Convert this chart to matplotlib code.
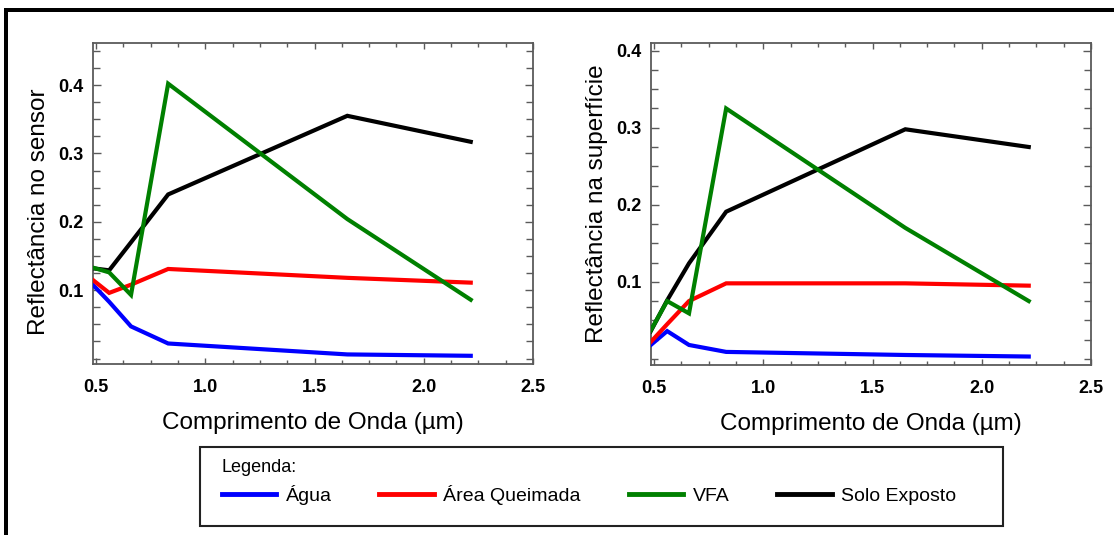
import matplotlib
matplotlib.use("Agg")
import matplotlib.pyplot as plt
from matplotlib.patches import Rectangle
from matplotlib.lines import Line2D
from matplotlib.ticker import MultipleLocator, FormatStrFormatter

plt.rcParams['font.family'] = ['Liberation Sans', 'DejaVu Sans']

# comprimentos de onda (bandas TM), em micrometros
wl = [0.485, 0.56, 0.66, 0.83, 1.65, 2.215]

# reflectancia no sensor
agua_sensor = [0.108, 0.083, 0.047, 0.022, 0.006, 0.004]
queimada_sensor = [0.115, 0.096, 0.108, 0.131, 0.118, 0.111]
vfa_sensor = [0.133, 0.126, 0.093, 0.402, 0.204, 0.086]
solo_sensor = [0.132, 0.129, 0.170, 0.240, 0.355, 0.317]

# reflectancia na superficie
agua_sup = [0.018, 0.036, 0.018, 0.009, 0.005, 0.003]
queimada_sup = [0.022, 0.045, 0.075, 0.098, 0.098, 0.095]
vfa_sup = [0.037, 0.075, 0.059, 0.325, 0.170, 0.075]
solo_sup = [0.036, 0.076, 0.124, 0.191, 0.298, 0.275]

nomes = ['Água', 'Área Queimada', 'VFA', 'Solo Exposto']
cores = ['#0000ff', '#ff0000', '#008000', '#000000']

W, H = 1114, 535


def caixa(x0, y0, x1, y1):
    return [x0 / W, 1 - y1 / H, (x1 - x0) / W, (y1 - y0) / H]


fig = plt.figure(figsize=(W / 100, H / 100), dpi=100)

# moldura preta (esquerda e topo)
fig.add_artist(Rectangle((4 / W, 0), 4 / W, 1 - 8 / H, transform=fig.transFigure,
                         facecolor='black', edgecolor='none'))
fig.add_artist(Rectangle((4 / W, 1 - 12 / H), 1 - 4 / W, 4 / H, transform=fig.transFigure,
                         facecolor='black', edgecolor='none'))


def desenha(ax, series, ylim, ylabel):
    # verde por cima do preto
    zs = [3, 4, 6, 5]
    for i in range(4):
        ax.plot(wl, series[i], color=cores[i], lw=3, solid_joinstyle='miter', zorder=zs[i])
    ax.set_xlim(0.486, 2.5)
    ax.set_ylim(*ylim)
    ax.set_xticks([0.5, 1.0, 1.5, 2.0, 2.5])
    ax.set_yticks([0.1, 0.2, 0.3, 0.4])
    ax.xaxis.set_minor_locator(MultipleLocator(0.125))
    ax.yaxis.set_minor_locator(MultipleLocator(0.025))
    ax.xaxis.set_major_formatter(FormatStrFormatter('%.1f'))
    ax.yaxis.set_major_formatter(FormatStrFormatter('%.1f'))
    for s in ax.spines.values():
        s.set_color('#5a5a5a')
        s.set_linewidth(1.3)
    ax.tick_params(axis='both', which='both', direction='in', top=True, right=True,
                   color='#5a5a5a', width=1.0)
    ax.tick_params(axis='x', which='major', length=4, pad=11)
    ax.tick_params(axis='x', which='minor', length=3)
    ax.tick_params(axis='y', which='major', length=6, pad=7)
    ax.tick_params(axis='y', which='minor', length=5)
    for lab in ax.get_xticklabels() + ax.get_yticklabels():
        lab.set_fontweight('bold')
        lab.set_fontsize(13)
    ax.set_xlabel('Comprimento de Onda (µm)', fontsize=17.5, labelpad=11)
    ax.set_ylabel(ylabel, fontsize=17.5, labelpad=6)


ax1 = fig.add_axes(caixa(93, 43, 533, 364))
desenha(ax1, [agua_sensor, queimada_sensor, vfa_sensor, solo_sensor],
        (-0.008, 0.4615), 'Reflectância no sensor')
ax1.yaxis.label.set_y(0.475)

ax2 = fig.add_axes(caixa(651, 43, 1091, 365))
desenha(ax2, [agua_sup, queimada_sup, vfa_sup, solo_sup],
        (-0.008, 0.41), 'Reflectância na superfície')

# caixa da legenda
fig.add_artist(Rectangle((200 / W, 1 - 526 / H), 803 / W, 79 / H, transform=fig.transFigure,
                         facecolor='white', edgecolor='#222222', lw=1.5))

handles = [Line2D([], [], color=c, lw=3.5) for c in cores]
leg = fig.legend(handles, nomes, loc='upper left', bbox_to_anchor=(204 / W, 1 - 441 / H),
                 ncol=4, frameon=False, fontsize=14, title='Legenda:', title_fontsize=13,
                 alignment='left', handlelength=2.8, handletextpad=0.5, columnspacing=2.45)
leg.set_zorder(10)

fig.savefig('out.png', dpi=100)
